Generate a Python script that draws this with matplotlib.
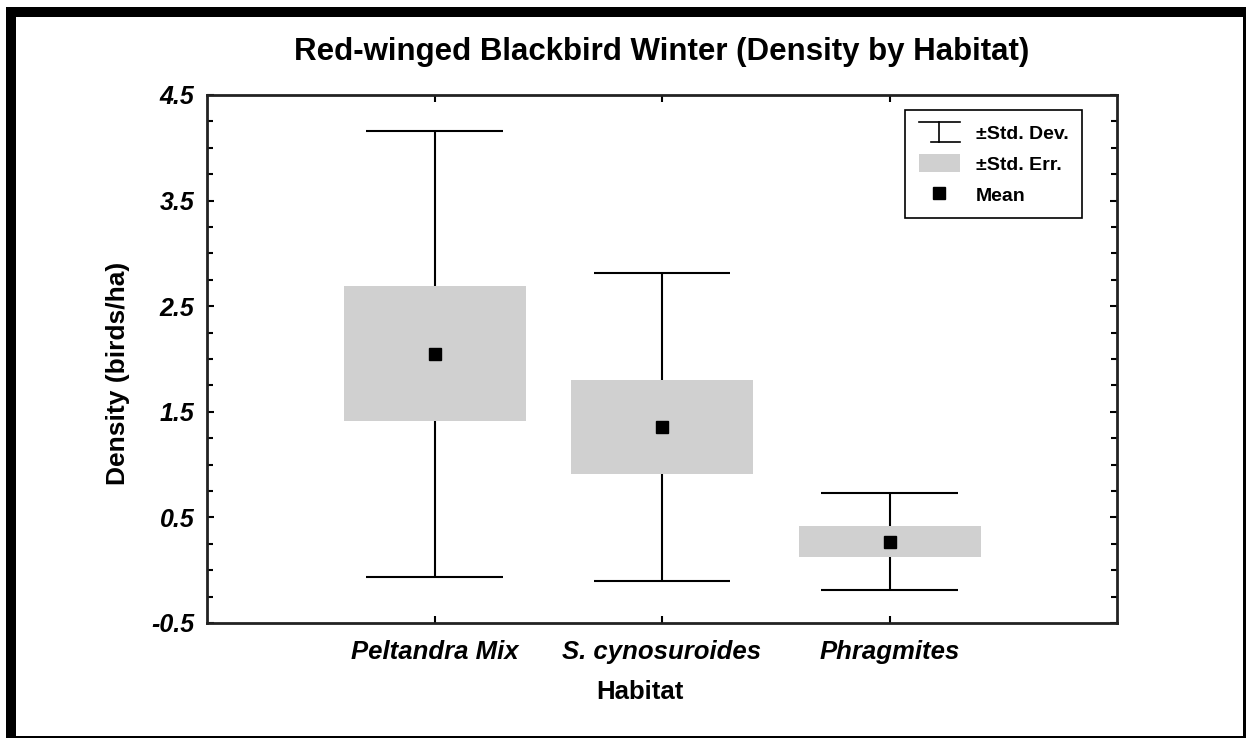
import matplotlib
matplotlib.use("Agg")
import matplotlib.pyplot as plt
from matplotlib.lines import Line2D
from matplotlib.patches import Rectangle, Patch
from matplotlib.legend_handler import HandlerBase
from matplotlib.ticker import MultipleLocator, FixedLocator

plt.rcParams['font.family'] = ['Liberation Sans', 'DejaVu Sans']

# Data
habitats = ['Peltandra Mix', 'S. cynosuroides', 'Phragmites']
means = [2.05, 1.355, 0.27]
std_dev = [2.11, 1.457, 0.46]
std_err = [0.64, 0.442, 0.148]
y_ticks = [-0.5, 0.5, 1.5, 2.5, 3.5, 4.5]

W, H = 1247, 739
fig = plt.figure(figsize=(W / 100, H / 100), dpi=100)


def fx(px):
    return px / W


def fy(py):
    return 1 - py / H


# outer frame: heavy top/left, thin right/bottom
frame = [
    (6, 7, 1240, 10),    # top bar
    (6, 7, 10, 731),     # left bar
    (1243, 7, 3, 731),   # right line
    (6, 736, 1240, 2),   # bottom line
]
for x, y, w, h in frame:
    fig.add_artist(Rectangle((fx(x), fy(y + h)), w / W, h / H,
                             transform=fig.transFigure, color='black', lw=0))

ax = fig.add_axes([fx(207), fy(623), (1117 - 207) / W, (623 - 95) / H])

xpos = [1, 2, 3]
lo = [m - s for m, s in zip(means, std_dev)]
hi = [m + s for m, s in zip(means, std_dev)]

# std dev whiskers
ax.vlines(xpos, lo, hi, color='black', lw=1.5, zorder=1)
ax.hlines(lo, [x - 0.3 for x in xpos], [x + 0.3 for x in xpos], color='black', lw=1.5, zorder=1)
ax.hlines(hi, [x - 0.3 for x in xpos], [x + 0.3 for x in xpos], color='black', lw=1.5, zorder=1)

# std err boxes
ax.bar(xpos, [2 * s for s in std_err], bottom=[m - s for m, s in zip(means, std_err)],
       width=0.8, color='#d0d0d0', lw=0, zorder=2)

# means
ax.plot(xpos, means, 's', color='black', ms=9, ls='none', zorder=3)

ax.set_xlim(0, 4)
ax.set_ylim(-0.5, 4.5)
ax.set_xticks(xpos)
ax.set_xticklabels(habitats, fontsize=18.5, fontweight='bold', fontstyle='italic')
ax.yaxis.set_major_locator(FixedLocator(y_ticks))
ax.set_yticklabels([f'{v:.1f}' for v in y_ticks], fontsize=18, fontweight='bold', fontstyle='italic')
ax.yaxis.set_minor_locator(MultipleLocator(0.25))
ax.tick_params(axis='both', which='both', direction='in', top=True, right=True,
               width=1.5, color='black')
ax.tick_params(axis='y', which='major', length=5, pad=9)
ax.tick_params(axis='y', which='minor', length=4)
ax.tick_params(axis='x', which='major', length=5, pad=12)
for sp in ax.spines.values():
    sp.set_linewidth(2)
    sp.set_color('#222222')

fig.text(0.5 * (fx(207) + fx(1117)), fy(52), 'Red-winged Blackbird Winter (Density by Habitat)',
         ha='center', va='center', fontsize=22.5, fontweight='bold')
fig.text(fx(118), fy(373), 'Density (birds/ha)', rotation=90,
         ha='center', va='center', fontsize=19, fontweight='bold')
fig.text(fx(640), fy(692), 'Habitat',
         ha='center', va='center', fontsize=18.5, fontweight='bold')


class HandlerSD(HandlerBase):
    def create_artists(self, legend, orig_handle, xdescent, ydescent, width, height, fontsize, trans):
        x0, x1 = -xdescent, -xdescent + width
        y0, y1 = -ydescent - 1, -ydescent + height + 1
        xm = (x0 + x1) / 2
        segs = [([x0, x1], [y1, y1]), ([xm, xm], [y0, y1]), ([x0 + width * 0.3, x1], [y0, y0])]
        return [Line2D(xs, ys, color='black', lw=1.2, transform=trans) for xs, ys in segs]


sd_handle = Line2D([], [], color='black')
se_handle = Patch(facecolor='#d0d0d0', edgecolor='none')
mean_handle = Line2D([], [], marker='s', color='black', ls='none', ms=8.5)
leg = ax.legend([sd_handle, se_handle, mean_handle], ['±Std. Dev.', '±Std. Err.', 'Mean'],
                handler_map={sd_handle: HandlerSD()},
                loc='upper right', bbox_to_anchor=(0.962, 0.972), borderaxespad=0,
                fancybox=False, edgecolor='black', framealpha=1, handlelength=2.1,
                handleheight=1.0, labelspacing=0.6, borderpad=0.7, handletextpad=0.85,
                prop={'weight': 'bold', 'size': 14})
leg.get_frame().set_linewidth(1.2)

fig.savefig('out.png', dpi=100)
